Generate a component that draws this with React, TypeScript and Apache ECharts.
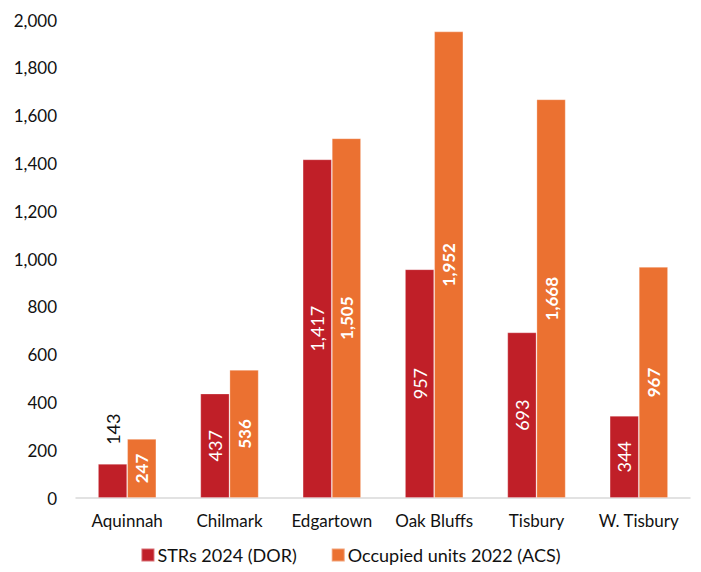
import React, { useEffect, useRef } from "react";
import * as echarts from "echarts";

const categories = ["Aquinnah", "Chilmark", "Edgartown", "Oak Bluffs", "Tisbury", "W. Tisbury"];
const strs2024 = [143, 437, 1417, 957, 693, 344];
const occupied2022 = [247, 536, 1505, 1952, 1668, 967];
const seriesNames = ["STRs 2024 (DOR)", "Occupied units 2022 (ACS)"];

const FONT = "Lato, 'Open Sans', sans-serif";
const fmt = (v: number) => v.toLocaleString("en-US");

export default function App() {
  const ref = useRef<HTMLDivElement>(null);
  useEffect(() => {
    if (!ref.current) return;
    document.body.style.margin = "0";
    const chart = echarts.init(ref.current, undefined, { renderer: "svg" });
    chart.setOption({
      animation: false,
      textStyle: { fontFamily: FONT },
      grid: { left: 76, right: 11, top: 20, bottom: 74, containLabel: false },
      legend: {
        bottom: 3,
        left: "center",
        itemWidth: 13,
        itemHeight: 13,
        itemGap: 34,
        icon: "rect",
        textStyle: { fontFamily: FONT, fontSize: 18, color: "#111", padding: [0, 0, 0, -2] },
        data: seriesNames,
      },
      xAxis: {
        type: "category",
        data: categories,
        axisLine: { lineStyle: { color: "#d9d9d9", width: 1.5 } },
        axisTick: { show: false },
        axisLabel: { interval: 0, fontFamily: FONT, fontSize: 17, color: "#111", margin: 14 },
      },
      yAxis: {
        type: "value",
        min: 0,
        max: 2000,
        interval: 200,
        splitLine: { show: false },
        axisLine: { show: false },
        axisTick: { show: false },
        axisLabel: { fontFamily: FONT, fontSize: 17, color: "#111", margin: 19, formatter: (v: number) => fmt(v) },
      },
      series: [
        {
          name: seriesNames[0],
          type: "bar",
          data: strs2024.map((v, i) =>
            i === 0
              ? {
                  value: v,
                  label: {
                    position: "top",
                    distance: 19,
                    color: "#111",
                    align: "left",
                    verticalAlign: "middle",
                  },
                }
              : v
          ),
          barGap: "0%",
          barCategoryGap: "43%",
          itemStyle: { color: "#C01F28", borderColor: "rgba(255,255,255,0.35)", borderWidth: 0.8 },
          label: {
            show: true,
            position: "inside",
            rotate: 90,
            color: "#fff",
            fontFamily: FONT,
            fontSize: 18,
            formatter: (p: any) => fmt(p.value),
          },
        },
        {
          name: seriesNames[1],
          type: "bar",
          data: occupied2022,
          itemStyle: { color: "#EB7131", borderColor: "rgba(255,255,255,0.35)", borderWidth: 0.8 },
          label: {
            show: true,
            position: "inside",
            rotate: 90,
            color: "#fff",
            fontWeight: "bold",
            fontFamily: FONT,
            fontSize: 17,
            formatter: (p: any) => fmt(p.value),
          },
        },
      ],
    });
    return () => chart.dispose();
  }, []);
  return <div ref={ref} style={{ width: 701, height: 572 }} />;
}
